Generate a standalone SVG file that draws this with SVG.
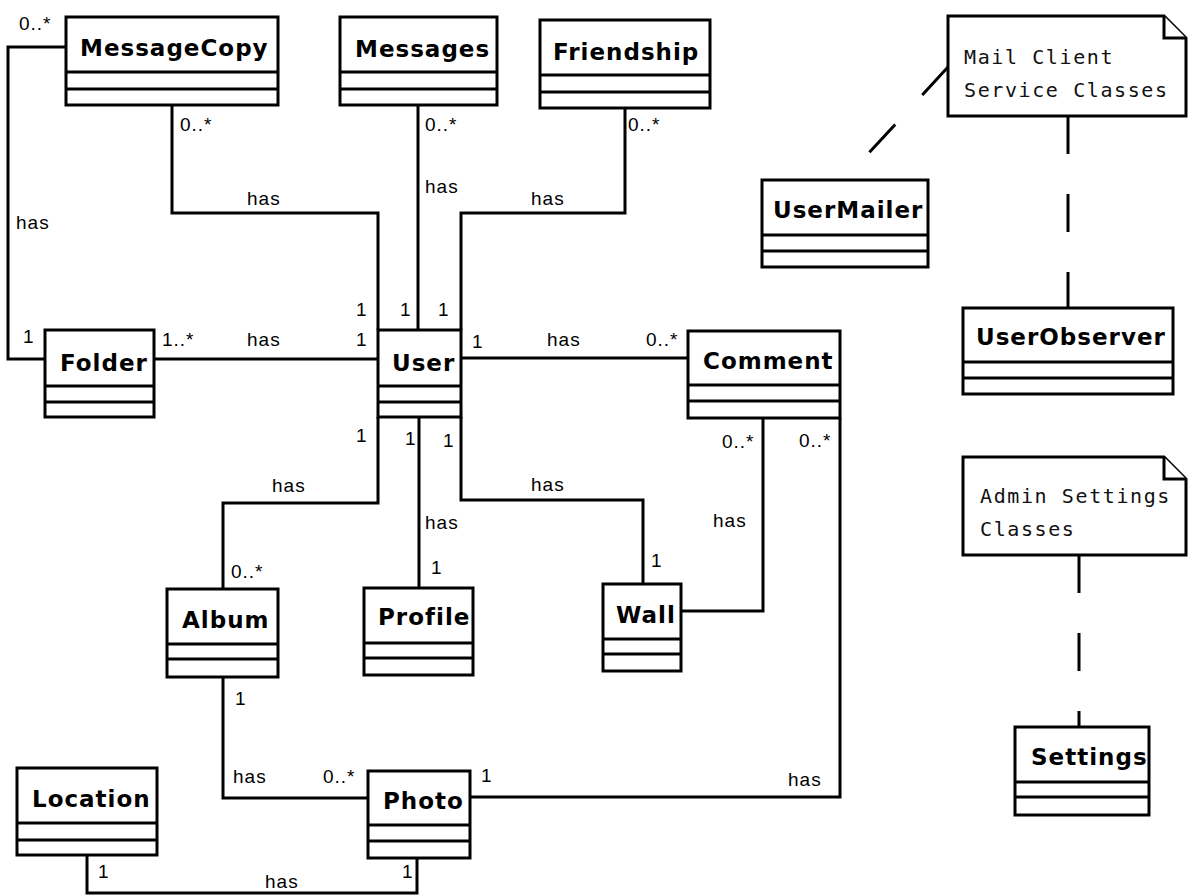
<svg xmlns="http://www.w3.org/2000/svg" width="1188" height="895" viewBox="0 0 1188 895">
<style>
.box rect{fill:#fff;stroke:#000;stroke-width:3}
.box line{stroke:#000;stroke-width:3}
.box text{font-family:"DejaVu Sans",sans-serif;font-weight:bold;font-size:23px;letter-spacing:1px;fill:#000}
.conn polyline{fill:none;stroke:#000;stroke-width:3}
.dash{fill:none;stroke:#000;stroke-width:3;stroke-dasharray:38 40}
.lbl{font-family:"Liberation Sans",Arial,sans-serif;font-size:19px;letter-spacing:1px;fill:#000}
.note path{fill:#fff;stroke:#000;stroke-width:3;stroke-linejoin:miter}
.note text{font-family:"DejaVu Sans Mono",monospace;font-size:20px;letter-spacing:1.6px;fill:#111}
</style>
<rect width="1188" height="895" fill="#fff"/>
<g id="connectors" class="conn">
<polyline points="66,47 8,47 8,359 45,359"/>
<polyline points="172,105 172,213 378,213 378,330"/>
<polyline points="418,105 418,330"/>
<polyline points="625,108 625,213 461,213 461,330"/>
<polyline points="154,359 378,359"/>
<polyline points="461,358 688,358"/>
<polyline points="378,417 378,503 223,503 223,589"/>
<polyline points="419,417 419,588"/>
<polyline points="461,417 461,500 643,500 643,584"/>
<polyline points="763,418 763,611 681,611"/>
<polyline points="840,418 840,797 470,797"/>
<polyline points="223,677 223,798 368,798"/>
<polyline points="87,855 87,893 417,893 417,858"/>
<line class="dash" x1="948" y1="67" x2="844" y2="180"/>
<line class="dash" x1="1068" y1="116" x2="1068" y2="308"/>
<line class="dash" x1="1079" y1="555" x2="1079" y2="727"/>
</g>
<g id="labels" class="lbl">
<text x="19" y="30">0..*</text>
<text x="16" y="229">has</text>
<text x="23" y="343">1</text>
<text x="180" y="131">0..*</text>
<text x="247" y="205">has</text>
<text x="356" y="316">1</text>
<text x="425" y="131">0..*</text>
<text x="425" y="193">has</text>
<text x="400" y="316">1</text>
<text x="628" y="131">0..*</text>
<text x="531" y="205">has</text>
<text x="438" y="316">1</text>
<text x="162" y="346">1..*</text>
<text x="247" y="346">has</text>
<text x="356" y="346">1</text>
<text x="472" y="348">1</text>
<text x="547" y="346">has</text>
<text x="646" y="346">0..*</text>
<text x="356" y="442">1</text>
<text x="272" y="492">has</text>
<text x="231" y="578">0..*</text>
<text x="405" y="445">1</text>
<text x="425" y="529">has</text>
<text x="431" y="574">1</text>
<text x="443" y="447">1</text>
<text x="531" y="491">has</text>
<text x="651" y="567">1</text>
<text x="722" y="448">0..*</text>
<text x="713" y="527">has</text>
<text x="799" y="447">0..*</text>
<text x="788" y="786">has</text>
<text x="481" y="782">1</text>
<text x="235" y="705">1</text>
<text x="233" y="783">has</text>
<text x="323" y="783">0..*</text>
<text x="98" y="878">1</text>
<text x="265" y="888">has</text>
<text x="402" y="878">1</text>
</g>
<g id="note-mail" class="note">
<path d="M948,16 H1164 L1186,38 V116 H948 Z"/>
<path d="M1164,16 V38 H1186"/>
<text x="964" y="64">Mail Client</text>
<text x="964" y="97">Service Classes</text>
</g>
<g id="note-admin" class="note">
<path d="M963,457 H1164 L1186,479 V555 H963 Z"/>
<path d="M1164,457 V479 H1186"/>
<text x="980" y="503">Admin Settings</text>
<text x="980" y="536">Classes</text>
</g>
<g id="MessageCopy" class="box"><rect x="66" y="17" width="212" height="88"/><line x1="66" y1="72" x2="278" y2="72"/><line x1="66" y1="89" x2="278" y2="89"/><text x="80" y="56">MessageCopy</text></g>
<g id="Messages" class="box"><rect x="340" y="17" width="157" height="88"/><line x1="340" y1="72" x2="497" y2="72"/><line x1="340" y1="89" x2="497" y2="89"/><text x="355" y="57">Messages</text></g>
<g id="Friendship" class="box"><rect x="540" y="20" width="170" height="88"/><line x1="540" y1="75" x2="710" y2="75"/><line x1="540" y1="92" x2="710" y2="92"/><text x="553" y="60">Friendship</text></g>
<g id="UserMailer" class="box"><rect x="762" y="180" width="166" height="87"/><line x1="762" y1="235" x2="928" y2="235"/><line x1="762" y1="251" x2="928" y2="251"/><text x="773" y="218">UserMailer</text></g>
<g id="UserObserver" class="box"><rect x="963" y="308" width="210" height="86"/><line x1="963" y1="362" x2="1173" y2="362"/><line x1="963" y1="378" x2="1173" y2="378"/><text x="976" y="345">UserObserver</text></g>
<g id="Folder" class="box"><rect x="45" y="330" width="109" height="87"/><line x1="45" y1="386" x2="154" y2="386"/><line x1="45" y1="402" x2="154" y2="402"/><text x="60" y="371">Folder</text></g>
<g id="User" class="box"><rect x="378" y="330" width="83" height="87"/><line x1="378" y1="386" x2="461" y2="386"/><line x1="378" y1="402" x2="461" y2="402"/><text x="392" y="371">User</text></g>
<g id="Comment" class="box"><rect x="688" y="331" width="152" height="87"/><line x1="688" y1="385" x2="840" y2="385"/><line x1="688" y1="401" x2="840" y2="401"/><text x="703" y="369">Comment</text></g>
<g id="Album" class="box"><rect x="167" y="589" width="111" height="88"/><line x1="167" y1="644" x2="278" y2="644"/><line x1="167" y1="659" x2="278" y2="659"/><text x="182" y="628">Album</text></g>
<g id="Profile" class="box"><rect x="364" y="588" width="109" height="87"/><line x1="364" y1="643" x2="473" y2="643"/><line x1="364" y1="658" x2="473" y2="658"/><text x="378" y="625">Profile</text></g>
<g id="Wall" class="box"><rect x="603" y="584" width="78" height="87"/><line x1="603" y1="639" x2="681" y2="639"/><line x1="603" y1="654" x2="681" y2="654"/><text x="616" y="623">Wall</text></g>
<g id="Photo" class="box"><rect x="368" y="771" width="102" height="87"/><line x1="368" y1="825" x2="470" y2="825"/><line x1="368" y1="841" x2="470" y2="841"/><text x="383" y="809">Photo</text></g>
<g id="Location" class="box"><rect x="17" y="768" width="140" height="87"/><line x1="17" y1="823" x2="157" y2="823"/><line x1="17" y1="840" x2="157" y2="840"/><text x="32" y="807">Location</text></g>
<g id="Settings" class="box"><rect x="1015" y="727" width="134" height="88"/><line x1="1015" y1="782" x2="1149" y2="782"/><line x1="1015" y1="797" x2="1149" y2="797"/><text x="1031" y="765">Settings</text></g>
</svg>
